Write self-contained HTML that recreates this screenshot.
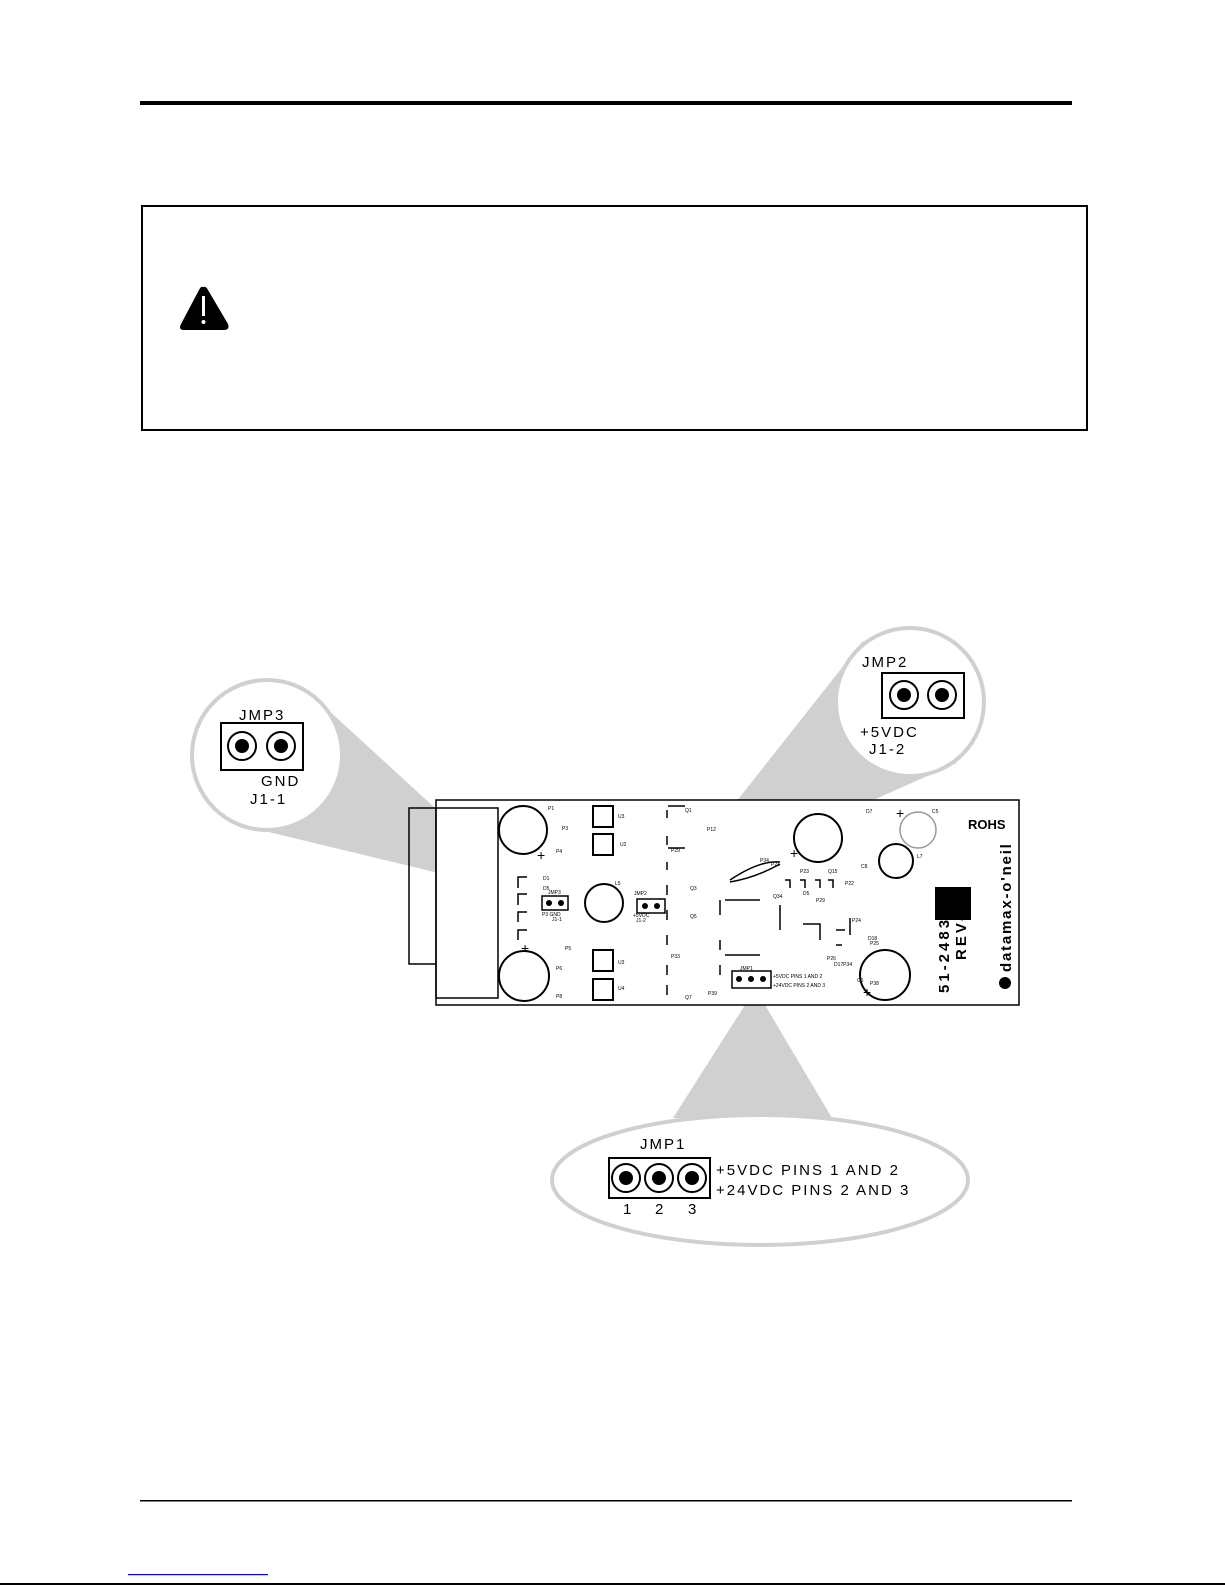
<!DOCTYPE html>
<html><head><style>body{margin:0;background:#fff}svg{display:block}text{font-family:"Liberation Sans",sans-serif}</style></head><body>
<svg width="1225" height="1585" viewBox="0 0 1225 1585" xmlns="http://www.w3.org/2000/svg">
<rect x="140" y="101" width="932" height="4" fill="#000"/>
<rect x="142" y="206" width="945" height="224" fill="none" stroke="#000" stroke-width="2"/>
<path d="M203,287 Q206,286 208,290 L228,324 Q230,330 224,330 L184,330 Q178,330 181,324 L199,290 Q201,286 203,287Z" fill="#000"/>
<rect x="202" y="296" width="3" height="20" fill="#fff"/><circle cx="203.5" cy="322" r="2" fill="#fff"/>

<polygon points="530,895 303,687 231,823" fill="#d0d0d0"/>
<polygon points="665,892 957,763 863,641" fill="#d0d0d0"/>
<polygon points="745,1005 765,1005 832,1118 673,1118" fill="#d0d0d0"/>

<g stroke="#000" fill="none" stroke-width="1.5">
<rect x="436" y="800" width="583" height="205" fill="#fff"/>
<path d="M436,808 L409,808 L409,964 L436,964"/>
<rect x="436" y="808" width="62" height="190"/>
<circle cx="523" cy="830" r="24" stroke-width="2"/>
<circle cx="524" cy="976" r="25" stroke-width="2"/>
<circle cx="604" cy="903" r="19" stroke-width="2"/>
<circle cx="818" cy="838" r="24" stroke-width="2"/>
<circle cx="918" cy="830" r="18" stroke="#999"/>
<circle cx="896" cy="861" r="17" stroke-width="2"/>
<circle cx="885" cy="975" r="25" stroke-width="2"/>
<rect x="593" y="806" width="20" height="21" stroke-width="2"/>
<rect x="593" y="834" width="20" height="21" stroke-width="2"/>
<rect x="593" y="950" width="20" height="21" stroke-width="2"/>
<rect x="593" y="979" width="20" height="21" stroke-width="2"/>
<rect x="542" y="896" width="26" height="14"/>
<rect x="637" y="899" width="28" height="14"/>
<rect x="732" y="971" width="39" height="17"/>
<path d="M667,810 V818 M667,836 V845 M685,806 H668 M685,848 H668 M667,862 V870 M667,885 V895 M667,910 V920 M667,935 V945 M667,965 V975 M667,985 V995"/>
<path d="M527,877 H518 V888 M527,894 H518 V905 M527,912 H518 V922 M527,930 H518 V940"/>
<path d="M720,900 V915 M720,940 V950 M720,965 V975 M760,955 H725 M760,900 H725 M780,905 V930"/>
<path d="M803,924 H820 V940 M850,918 V935 M836,930 H845 M836,945 H842"/>
<path d="M730,880 Q760,860 780,862 M730,882 Q755,878 780,864"/>
<path d="M785,880 h5 v8 M800,880 h5 v8 M815,880 h5 v8 M828,880 h5 v8"/>
</g>
<circle cx="549" cy="903" r="3" fill="#000"/><circle cx="561" cy="903" r="3" fill="#000"/>
<circle cx="645" cy="906" r="3" fill="#000"/><circle cx="657" cy="906" r="3" fill="#000"/>
<circle cx="739" cy="979" r="3" fill="#000"/><circle cx="751" cy="979" r="3" fill="#000"/><circle cx="763" cy="979" r="3" fill="#000"/>
<rect x="935" y="887" width="36" height="33" fill="#000"/>
<text x="968" y="829" font-size="13" font-weight="bold">ROHS</text>
<text transform="translate(949,993) rotate(-90)" font-size="15" font-weight="bold" letter-spacing="3">51-2483-</text>
<text transform="translate(966,960) rotate(-90)" font-size="15" font-weight="bold" letter-spacing="3">REV-</text>
<text transform="translate(1011,972) rotate(-90)" font-size="15" font-weight="bold" letter-spacing="1.8">datamax-o'neil</text>
<circle cx="1005" cy="983" r="6" fill="#000"/>
<text x="537" y="860" font-size="14">+</text><text x="521" y="953" font-size="14">+</text>
<text x="790" y="858" font-size="14">+</text><text x="896" y="818" font-size="14">+</text><text x="863" y="997" font-size="14">+</text>
<g font-size="5">
<text x="548" y="810">P1</text><text x="562" y="830">P3</text><text x="556" y="853">P4</text><text x="618" y="818">U3</text><text x="620" y="846">U2</text>
<text x="543" y="880">D1</text><text x="543" y="890">D5</text><text x="548" y="894">JMP3</text><text x="542" y="916">P3 GND</text><text x="552" y="921">J1-1</text>
<text x="615" y="885">L5</text><text x="634" y="895">JMP2</text><text x="633" y="917">+5VDC</text><text x="636" y="922">J1-2</text>
<text x="565" y="950">P5</text><text x="556" y="970">P6</text><text x="556" y="998">P8</text><text x="618" y="964">U3</text><text x="618" y="990">U4</text>
<text x="685" y="812">Q1</text><text x="707" y="831">P12</text><text x="671" y="852">P29</text><text x="690" y="890">Q3</text><text x="690" y="918">Q5</text>
<text x="671" y="958">P33</text><text x="708" y="995">P39</text><text x="685" y="999">Q7</text>
<text x="740" y="970">JMP1</text><text x="773" y="978">+5VDC PINS 1 AND 2</text><text x="773" y="987">+24VDC PINS 2 AND 3</text>
<text x="760" y="862">P34</text><text x="771" y="866">P21</text><text x="800" y="873">P23</text><text x="828" y="873">Q15</text><text x="845" y="885">P22</text>
<text x="866" y="813">D7</text><text x="932" y="813">C5</text><text x="917" y="858">L7</text><text x="861" y="868">C8</text>
<text x="773" y="898">Q34</text><text x="803" y="895">D5</text><text x="816" y="902">P29</text><text x="852" y="922">P24</text><text x="868" y="940">D18</text><text x="870" y="945">P25</text>
<text x="827" y="960">P26</text><text x="834" y="966">D17P34</text><text x="870" y="985">P38</text><text x="857" y="982">C6</text>
</g>

<circle cx="267" cy="755" r="75" fill="#fff" stroke="#d0d0d0" stroke-width="4"/>
<circle cx="910" cy="702" r="74" fill="#fff" stroke="#d0d0d0" stroke-width="4"/>
<ellipse cx="760" cy="1180" rx="208" ry="65" fill="#fff" stroke="#d0d0d0" stroke-width="4"/>

<g font-size="15" letter-spacing="2">
<text x="239" y="720">JMP3</text>
<rect x="221" y="723" width="82" height="47" fill="none" stroke="#000" stroke-width="2"/>
<circle cx="242" cy="746" r="14" fill="#fff" stroke="#000" stroke-width="2"/><circle cx="242" cy="746" r="7" fill="#000"/>
<circle cx="281" cy="746" r="14" fill="#fff" stroke="#000" stroke-width="2"/><circle cx="281" cy="746" r="7" fill="#000"/>
<text x="261" y="786">GND</text><text x="250" y="804">J1-1</text>

<text x="862" y="667">JMP2</text>
<rect x="882" y="673" width="82" height="45" fill="none" stroke="#000" stroke-width="2"/>
<circle cx="904" cy="695" r="14" fill="#fff" stroke="#000" stroke-width="2"/><circle cx="904" cy="695" r="7" fill="#000"/>
<circle cx="942" cy="695" r="14" fill="#fff" stroke="#000" stroke-width="2"/><circle cx="942" cy="695" r="7" fill="#000"/>
<text x="860" y="737">+5VDC</text><text x="869" y="754">J1-2</text>

<text x="640" y="1149">JMP1</text>
<rect x="609" y="1158" width="101" height="40" fill="none" stroke="#000" stroke-width="2"/>
<circle cx="626" cy="1178" r="14" fill="#fff" stroke="#000" stroke-width="2"/><circle cx="626" cy="1178" r="7" fill="#000"/>
<circle cx="659" cy="1178" r="14" fill="#fff" stroke="#000" stroke-width="2"/><circle cx="659" cy="1178" r="7" fill="#000"/>
<circle cx="692" cy="1178" r="14" fill="#fff" stroke="#000" stroke-width="2"/><circle cx="692" cy="1178" r="7" fill="#000"/>
<text x="716" y="1175">+5VDC PINS 1 AND 2</text>
<text x="716" y="1195">+24VDC PINS 2 AND 3</text>
<text x="623" y="1214">1</text><text x="655" y="1214">2</text><text x="688" y="1214">3</text>
</g>

<rect x="140" y="1500" width="932" height="1.5" fill="#000"/>
<rect x="128" y="1574" width="140" height="1.2" fill="#00f"/>
<rect x="0" y="1583" width="1225" height="2" fill="#000"/>
</svg>
</body></html>
